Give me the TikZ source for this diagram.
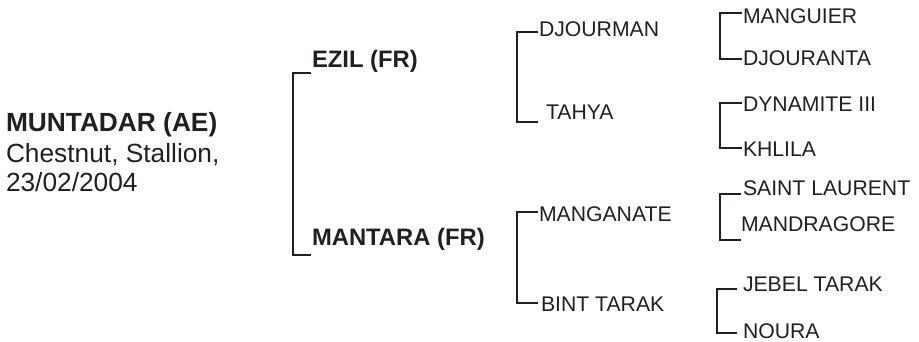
\documentclass[tikz,border=0pt]{standalone}
\usepackage{fontspec}
\setmainfont{Liberation Sans}
\definecolor{ink}{HTML}{231F20}
\begin{document}
\begin{tikzpicture}[x=1pt,y=-1pt,
  txt/.style={anchor=base west,inner sep=0pt,outer sep=0pt,text=ink,font=\fontsize{21.2}{25}\selectfont},
  big/.style={txt,font=\bfseries\fontsize{23.8}{28}\selectfont},
  main/.style={txt,font=\fontsize{26.3}{30}\selectfont},
  mainb/.style={txt,font=\bfseries\fontsize{26.3}{30}\selectfont},
  br/.style={draw=ink,line width=2pt}]
\useasboundingbox (0,0) rectangle (919,341);
% subject
\node[mainb] (subj) at (6,131) {MUNTADAR (AE)};
\node[main] (subj2) at (6,162.5) {Chestnut, Stallion,};
\node[main] (subj3) at (6,191) {23/02/2004};
% generation 1
\node[big] (ezil) at (312,67.3) {EZIL (FR)};
\node[big] (mantara) at (312,245) {MANTARA (FR)};
% generation 2
\node[txt] (djourman) at (539,36.7) {DJOURMAN};
\node[txt] (tahya) at (546,119) {TAHYA};
\node[txt] (manganate) at (539,221.7) {MANGANATE};
\node[txt] (bint) at (541,311.7) {BINT TARAK};
% generation 3
\node[txt] (manguier) at (743,23.3) {MANGUIER};
\node[txt] (djouranta) at (743,65) {DJOURANTA};
\node[txt] (dynamite) at (743,111.7) {DYNAMITE III};
\node[txt] (khlila) at (743,156) {KHLILA};
\node[txt] (saint) at (743,195) {SAINT LAURENT};
\node[txt] (mandragore) at (741,231.7) {MANDRAGORE};
\node[txt] (jebel) at (743,291.7) {JEBEL TARAK};
\node[txt] (noura) at (743,338.3) {NOURA};
% bracket end points
\coordinate (ezilT) at (311,73);
\coordinate (mantaraT) at (311,255);
\coordinate (djourmanT) at (538,32);
\coordinate (tahyaT) at (538,122);
\coordinate (manganateT) at (538,212);
\coordinate (bintT) at (538,303);
\coordinate (manguierT) at (742,13);
\coordinate (djourantaT) at (742,59);
\coordinate (dynamiteT) at (742,103);
\coordinate (khlilaT) at (742,148);
\coordinate (saintT) at (741,194);
\coordinate (mandragoreT) at (741,240);
\coordinate (jebelT) at (737,289);
\coordinate (nouraT) at (737,333);
% brackets
\draw[br] (ezilT) -- ++(-18,0) |- (mantaraT);
\draw[br] (djourmanT) -- ++(-21,0) |- (tahyaT);
\draw[br] (manganateT) -- ++(-21,0) |- (bintT);
\draw[br] (manguierT) -- ++(-22,0) |- (djourantaT);
\draw[br] (dynamiteT) -- ++(-22,0) |- (khlilaT);
\draw[br] (saintT) -- ++(-21,0) |- (mandragoreT);
\draw[br] (jebelT) -- ++(-20,0) |- (nouraT);
\end{tikzpicture}
\end{document}
